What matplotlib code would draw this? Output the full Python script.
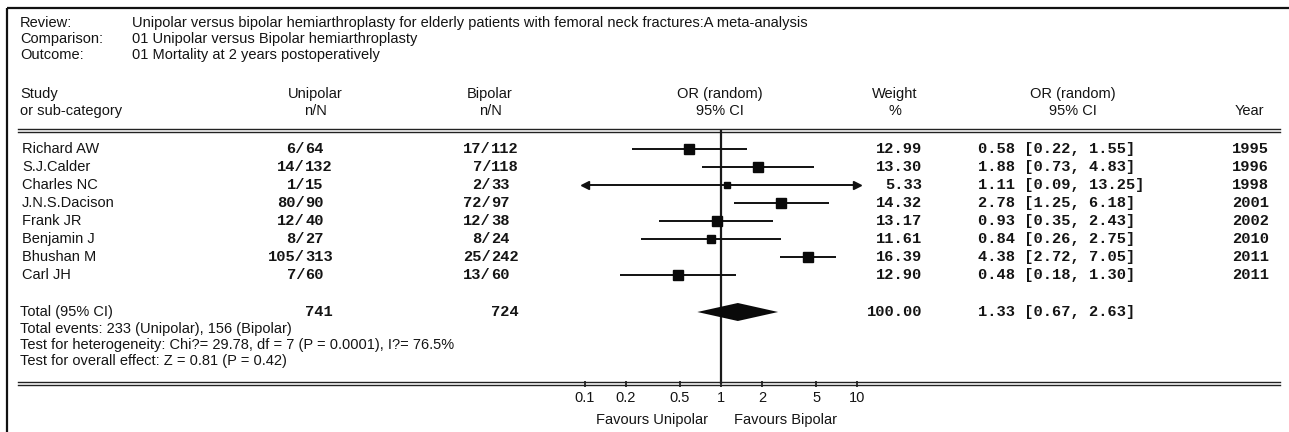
import numpy as np
import matplotlib
matplotlib.use("Agg")
import matplotlib.pyplot as plt

# ---------------- data ----------------
review = "Unipolar versus bipolar hemiarthroplasty for elderly patients with femoral neck fractures:A meta-analysis"
comparison = "01 Unipolar versus Bipolar hemiarthroplasty"
outcome = "01 Mortality at 2 years postoperatively"

studies = ["Richard AW", "S.J.Calder", "Charles NC", "J.N.S.Dacison",
           "Frank JR", "Benjamin J", "Bhushan M", "Carl JH"]
uni_events = [6, 14, 1, 80, 12, 8, 105, 7]
uni_totals = [64, 132, 15, 90, 40, 27, 313, 60]
bi_events = [17, 7, 2, 72, 12, 8, 25, 13]
bi_totals = [112, 118, 33, 97, 38, 24, 242, 60]
weights = [12.99, 13.30, 5.33, 14.32, 13.17, 11.61, 16.39, 12.90]
or_vals = [0.58, 1.88, 1.11, 2.78, 0.93, 0.84, 4.38, 0.48]
ci_low = [0.22, 0.73, 0.09, 1.25, 0.35, 0.26, 2.72, 0.18]
ci_high = [1.55, 4.83, 13.25, 6.18, 2.43, 2.75, 7.05, 1.30]
years = [1995, 1996, 1998, 2001, 2002, 2010, 2011, 2011]

total_uni = 741
total_bi = 724
total_weight = 100.00
total_or = 1.33
total_low = 0.67
total_high = 2.63

footer_lines = [
    "Total events: 233 (Unipolar), 156 (Bipolar)",
    "Test for heterogeneity: Chi?= 29.78, df = 7 (P = 0.0001), I?= 76.5%",
    "Test for overall effect: Z = 0.81 (P = 0.42)",
]
tick_values = [0.1, 0.2, 0.5, 1, 2, 5, 10]
tick_labels = ["0.1", "0.2", "0.5", "1", "2", "5", "10"]

# ---------------- layout (pixels) ----------------
W, H = 1289, 432
SANS = "Liberation Sans"
MONO = "Liberation Mono"
FS_SANS = 10.5
FS_MONO = 11.1
TXT = "#141414"

fig = plt.figure(figsize=(W / 100, H / 100), dpi=100)
bg = fig.add_axes([0, 0, 1, 1])
bg.set_xlim(0, W)
bg.set_ylim(H, 0)
bg.axis("off")

def stxt(x, y, s, ha="left", **kw):
    bg.text(x, y, s, ha=ha, va="center", family=SANS, fontsize=FS_SANS, color=TXT, **kw)

def mtxt(x, y, s, ha="left", **kw):
    bg.text(x, y, s, ha=ha, va="center", family=MONO, fontsize=FS_MONO,
            color=TXT, weight="bold", **kw)

# frame
bg.plot([7, 7], [8, H], color="#111", lw=1.6, solid_capstyle="butt")
bg.plot([7, W], [8, 8], color="#111", lw=1.6, solid_capstyle="butt")

# header block
lab_x, val_x = 20, 132
for y, lab, val in [(23, "Review:", review), (39, "Comparison:", comparison), (55, "Outcome:", outcome)]:
    stxt(lab_x, y, lab)
    stxt(val_x, y, val)

col_uni, col_bi = 315, 490
col_or, col_w, col_ci, col_year = 720, 895, 1073, 1264
stxt(lab_x, 94, "Study")
stxt(lab_x, 111, "or sub-category")
stxt(col_uni, 94, "Unipolar", ha="center")
stxt(col_uni, 111, "n/N", ha="center")
stxt(col_bi, 94, "Bipolar", ha="center")
stxt(col_bi, 111, "n/N", ha="center")
stxt(col_or, 94, "OR (random)", ha="center")
stxt(col_or, 111, "95% CI", ha="center")
stxt(col_w, 94, "Weight", ha="center")
stxt(col_w, 111, "%", ha="center")
stxt(col_ci, 94, "OR (random)", ha="center")
stxt(col_ci, 111, "95% CI", ha="center")
stxt(col_year, 111, "Year", ha="right")

# separator lines (double)
line_x0, line_x1 = 18, 1280
for yy in (129.3, 131.8):
    bg.plot([line_x0, line_x1], [yy, yy], color="#222", lw=1.0)
for yy in (382.3, 384.6):
    bg.plot([line_x0, line_x1], [yy, yy], color="#222", lw=1.0)

# study rows
row0, step = 149, 18
slash_uni, slash_bi = 305, 491
w_right, ci_left = 922, 978
row_y = [row0 + step * i for i in range(len(studies))]
for i, y in enumerate(row_y):
    stxt(22, y, studies[i])
    mtxt(slash_uni, y, f"{uni_events[i]}/", ha="right")
    mtxt(slash_uni, y, f"{uni_totals[i]}", ha="left")
    mtxt(slash_bi, y, f"{bi_events[i]}/", ha="right")
    mtxt(slash_bi, y, f"{bi_totals[i]}", ha="left")
    mtxt(w_right, y, f"{weights[i]:.2f}", ha="right")
    mtxt(ci_left, y, f"{or_vals[i]:.2f} [{ci_low[i]:.2f}, {ci_high[i]:.2f}]")
    mtxt(1269, y, f"{years[i]}", ha="right")

# total + footer
y_tot = 312
stxt(20, y_tot, "Total (95% CI)")
mtxt(slash_uni, y_tot, f"{total_uni}", ha="left")
mtxt(slash_bi, y_tot, f"{total_bi}", ha="left")
mtxt(w_right, y_tot, f"{total_weight:.2f}", ha="right")
mtxt(ci_left, y_tot, f"{total_or:.2f} [{total_low:.2f}, {total_high:.2f}]")
for k, s in enumerate(footer_lines):
    stxt(20, 328.5 + 16.5 * k, s)

# ---------------- forest axes ----------------
x_left, x_right = 585, 857
y_top, y_bot = 130, 383.5
fa = fig.add_axes([x_left / W, 1 - y_bot / H, (x_right - x_left) / W, (y_bot - y_top) / H])
fa.patch.set_alpha(0)
fa.set_xscale("log")
xmin, xmax = 0.1, 10
fa.set_xlim(xmin, xmax)
fa.set_ylim(y_bot, y_top)
for sp in fa.spines.values():
    sp.set_visible(False)
fa.set_yticks([])
fa.set_xticks(tick_values)
fa.set_xticklabels(tick_labels)
fa.xaxis.set_minor_locator(matplotlib.ticker.NullLocator())
fa.tick_params(axis="x", direction="inout", length=5, width=1.3, color="#222",
               pad=3, labelsize=FS_SANS, labelcolor=TXT)
for lab in fa.get_xticklabels():
    lab.set_family(SANS)

# line of no effect
fa.axvline(1, color="#1a1a1a", lw=1.6, zorder=1)

wt = np.array(weights)
sizes = 1.9 * np.sqrt(wt)
for i, y in enumerate(row_y):
    lo = max(ci_low[i], xmin)
    hi = min(ci_high[i], xmax)
    fa.plot([lo, hi], [y, y], color="#111", lw=1.4, zorder=2, solid_capstyle="butt")
    if ci_low[i] < xmin:
        fa.plot([lo], [y], marker="<", ms=6, color="#111", zorder=3, clip_on=False)
    if ci_high[i] > xmax:
        fa.plot([hi], [y], marker=">", ms=6, color="#111", zorder=3, clip_on=False)
    fa.plot([or_vals[i]], [y], marker="s", ms=sizes[i], color="#0a0a0a", zorder=4)

# pooled diamond
dh = 9
fa.fill([total_low, total_or, total_high, total_or],
        [y_tot, y_tot - dh, y_tot, y_tot + dh], color="#0a0a0a", zorder=4, lw=0)

# favours labels
fa.annotate("Favours Unipolar", xy=(1, 0), xycoords=("data", "axes fraction"),
            xytext=(-9, -26), textcoords="offset points", ha="right", va="center",
            family=SANS, fontsize=FS_SANS, color=TXT, annotation_clip=False)
fa.annotate("Favours Bipolar", xy=(1, 0), xycoords=("data", "axes fraction"),
            xytext=(9, -26), textcoords="offset points", ha="left", va="center",
            family=SANS, fontsize=FS_SANS, color=TXT, annotation_clip=False)

fig.savefig("out.png", dpi=100)
